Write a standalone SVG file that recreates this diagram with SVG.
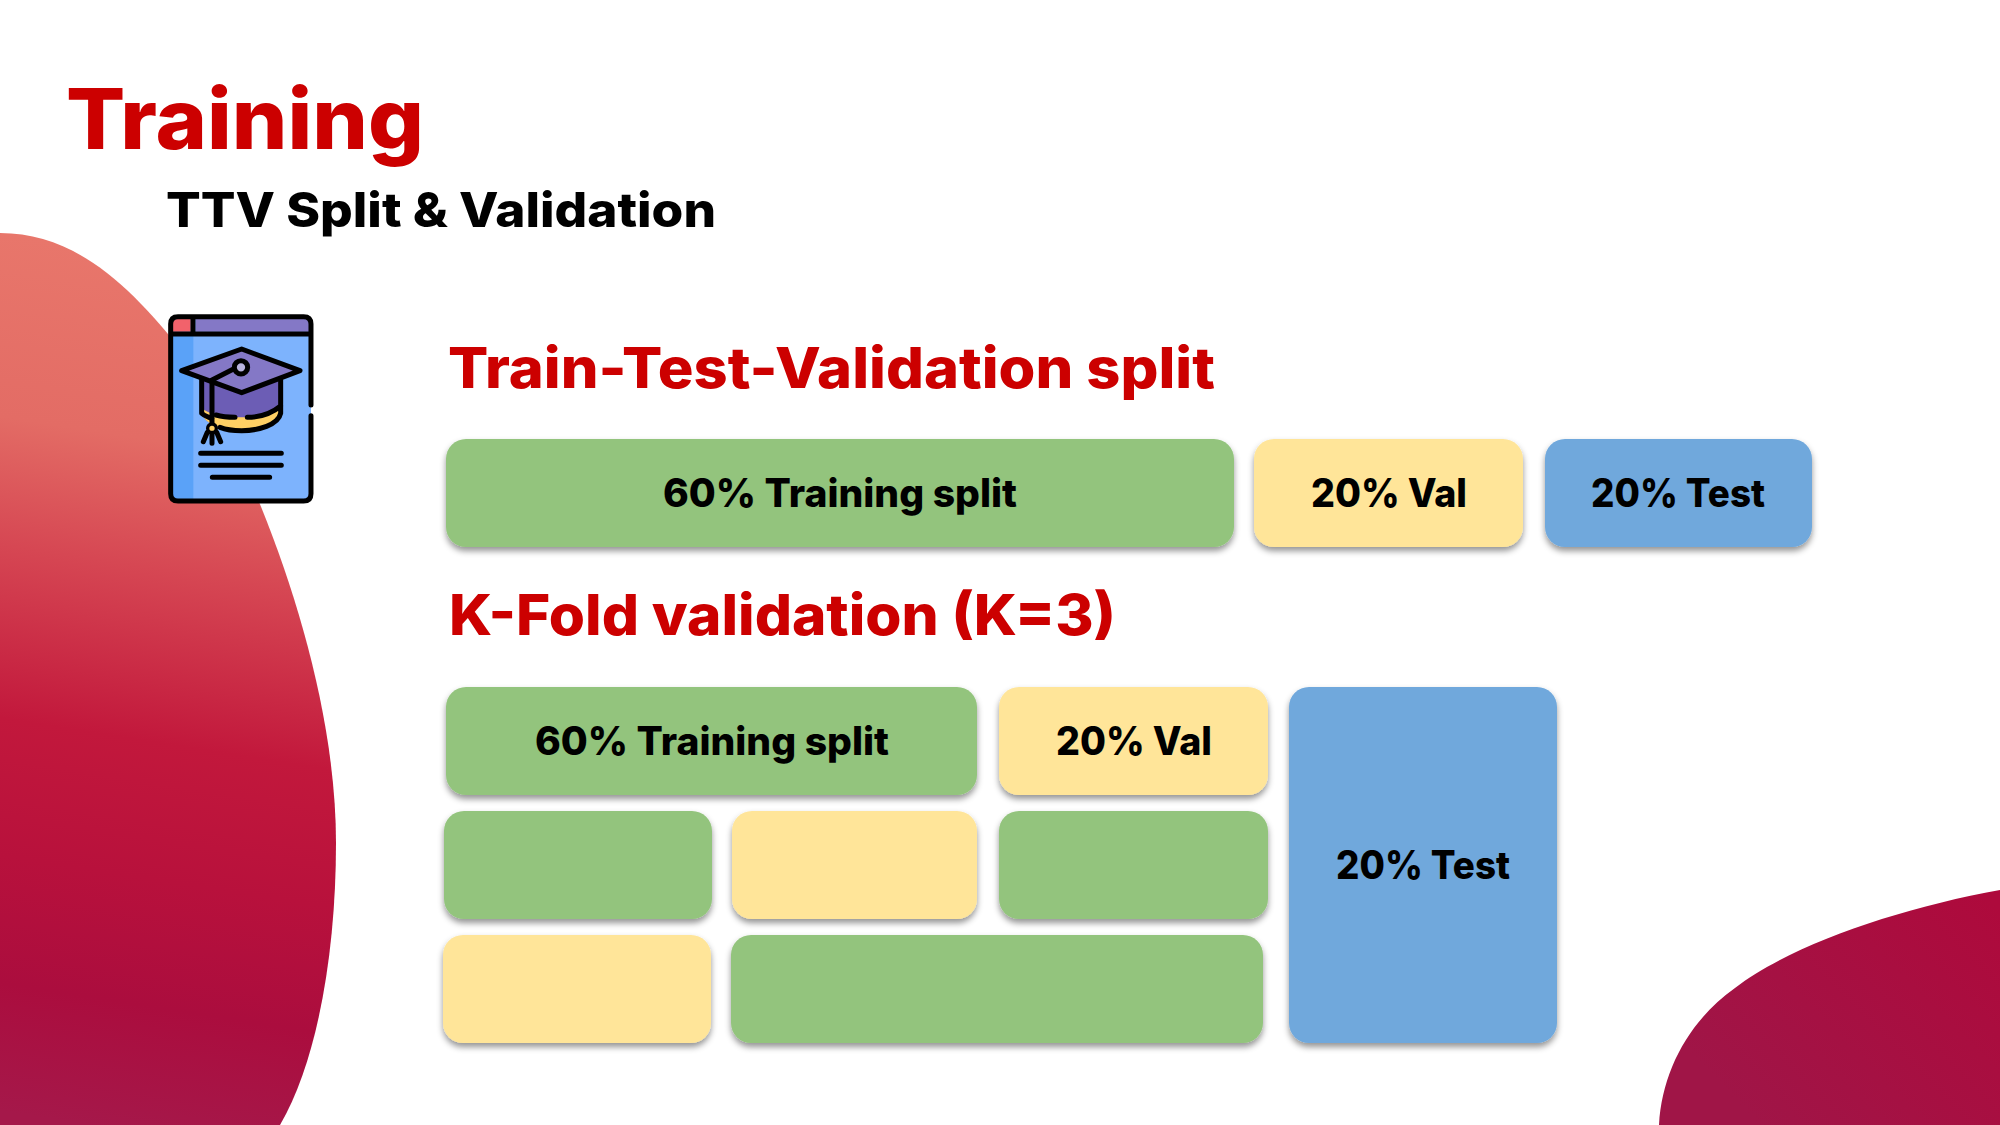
<svg xmlns="http://www.w3.org/2000/svg" width="2000" height="1125" viewBox="0 0 2000 1125">
<style>
text{font-family:"Inter","Noto Sans","Liberation Sans",sans-serif;font-weight:800}
.red{fill:#cc0000}.blk{fill:#000}
.h{font-size:56px}.l{font-size:39px}
.g{fill:#93c47d}.y{fill:#ffe599}.b{fill:#6fa8dc}
.box{filter:url(#sh)}
.ol{fill:none;stroke:#000;stroke-width:15;stroke-linecap:round;stroke-linejoin:round}
</style>
<defs>
<filter id="sh" x="-5%" y="-10%" width="110%" height="125%"><feDropShadow dx="0" dy="4" stdDeviation="3" flood-color="#000" flood-opacity="0.42"/></filter>
<linearGradient id="lg" gradientUnits="userSpaceOnUse" x1="230" y1="233" x2="90" y2="1125">
<stop offset="0" stop-color="#e9786c"/><stop offset="0.24" stop-color="#e36c65"/><stop offset="0.38" stop-color="#d64753"/><stop offset="0.57" stop-color="#c2183c"/><stop offset="0.72" stop-color="#b8113c"/><stop offset="0.86" stop-color="#ab0d3e"/><stop offset="1" stop-color="#a5184a"/>
</linearGradient>
<linearGradient id="rg" gradientUnits="userSpaceOnUse" x1="1990" y1="900" x2="1760" y2="1125">
<stop offset="0" stop-color="#ae0a3c"/><stop offset="1" stop-color="#a01547"/>
</linearGradient>
</defs>
<rect width="2000" height="1125" fill="#fff"/>
<path id="blob-left" fill="url(#lg)" d="M0 233C75 233 130 285 185 355C235 430 336 650 336 843C336 950 318 1060 280 1125L0 1125Z"/>
<path id="blob-right" fill="url(#rg)" d="M2000 890C1900 908 1790 945 1735 988C1690 1020 1662 1070 1659 1125L2000 1125Z"/>
<g id="title"><text class="red" x="66" y="149" font-size="84" textLength="358" lengthAdjust="spacingAndGlyphs">Training</text></g>
<g id="subtitle"><text class="blk" x="166" y="227" font-size="48" textLength="550" lengthAdjust="spacingAndGlyphs">TTV Split &amp; Validation</text></g>
<g id="icon" transform="translate(150 300) scale(.3333)">
<rect x="62" y="50" width="421" height="553" rx="22" fill="#7db3fd"/>
<path d="M62 102H130V603H84Q62 603 62 581Z" fill="#5aa2f8"/>
<path d="M68 95V72Q68 57 84 57H122V95Z" fill="#f2626b"/>
<path d="M137 57H462Q477 57 477 72V95H137Z" fill="#8478c6"/>
<path d="M129 50V102" stroke="#000" stroke-width="15"/>
<path d="M62 102H483" stroke="#000" stroke-width="15"/>
<path d="M155 240V340C165 375 225 392 275 392C325 392 385 375 392 340V240Z" fill="#6c5db5"/>
<path d="M155 325C190 350 230 352 275 352C320 352 365 345 392 320V340C385 375 325 392 275 392C225 392 165 375 155 340Z" fill="#ffd064"/>
<path d="M275 147L450 212L275 278L95 212Z" fill="#8478c6"/>
<path class="ol" d="M275 147L450 212L275 278L95 212Z"/>
<path class="ol" d="M155 238V340C165 350 175 350 185 355M198 345C215 350 235 352 255 352M292 352C330 352 365 340 392 318M392 240V340C385 375 325 392 275 392C250 392 225 388 210 382"/>
<path class="ol" d="M186 240L255 205M186 240V375"/>
<circle cx="273" cy="202" r="20" fill="#b8b3de" stroke="#000" stroke-width="15"/>
<circle cx="186" cy="385" r="13" fill="#ffd064" stroke="#000" stroke-width="10"/>
<path class="ol" d="M172 397L160 425M186 400V430M200 397L212 425"/>
<path class="ol" d="M152 460H394M152 496H394M187 532H359"/>
<path class="ol" d="M483 315V72Q483 50 461 50H84Q62 50 62 72V581Q62 603 84 603H461Q483 603 483 581V347"/>
</g>
<g id="heading-ttv"><text class="red h" x="448" y="388" textLength="767" lengthAdjust="spacingAndGlyphs">Train-Test-Validation split</text></g>
<g id="ttv-train"><rect class="g box" x="446" y="439" width="788" height="108" rx="20"/><text class="blk l" x="663" y="507" textLength="354" lengthAdjust="spacingAndGlyphs">60% Training split</text></g>
<g id="ttv-val"><rect class="y box" x="1254" y="439" width="269" height="108" rx="20"/><text class="blk l" x="1311" y="507" textLength="156" lengthAdjust="spacingAndGlyphs">20% Val</text></g>
<g id="ttv-test"><rect class="b box" x="1545" y="439" width="267" height="108" rx="20"/><text class="blk l" x="1591" y="507" textLength="174" lengthAdjust="spacingAndGlyphs">20% Test</text></g>
<g id="heading-kfold"><text class="red h" x="449" y="635" textLength="667" lengthAdjust="spacingAndGlyphs">K-Fold validation (K=3)</text></g>
<g id="k1-train"><rect class="g box" x="446" y="687" width="531" height="108" rx="20"/><text class="blk l" x="535" y="755" textLength="354" lengthAdjust="spacingAndGlyphs">60% Training split</text></g>
<g id="k1-val"><rect class="y box" x="999" y="687" width="269" height="108" rx="20"/><text class="blk l" x="1056" y="755" textLength="156" lengthAdjust="spacingAndGlyphs">20% Val</text></g>
<g id="k-test"><rect class="b box" x="1289" y="687" width="268" height="356" rx="20"/><text class="blk l" x="1336" y="879" textLength="174" lengthAdjust="spacingAndGlyphs">20% Test</text></g>
<g id="k2-a"><rect class="g box" x="444" y="811" width="268" height="108" rx="20"/></g>
<g id="k2-b"><rect class="y box" x="732" y="811" width="245" height="108" rx="20"/></g>
<g id="k2-c"><rect class="g box" x="999" y="811" width="269" height="108" rx="20"/></g>
<g id="k3-a"><rect class="y box" x="443" y="935" width="268" height="108" rx="20"/></g>
<g id="k3-b"><rect class="g box" x="731" y="935" width="532" height="108" rx="20"/></g>
</svg>
